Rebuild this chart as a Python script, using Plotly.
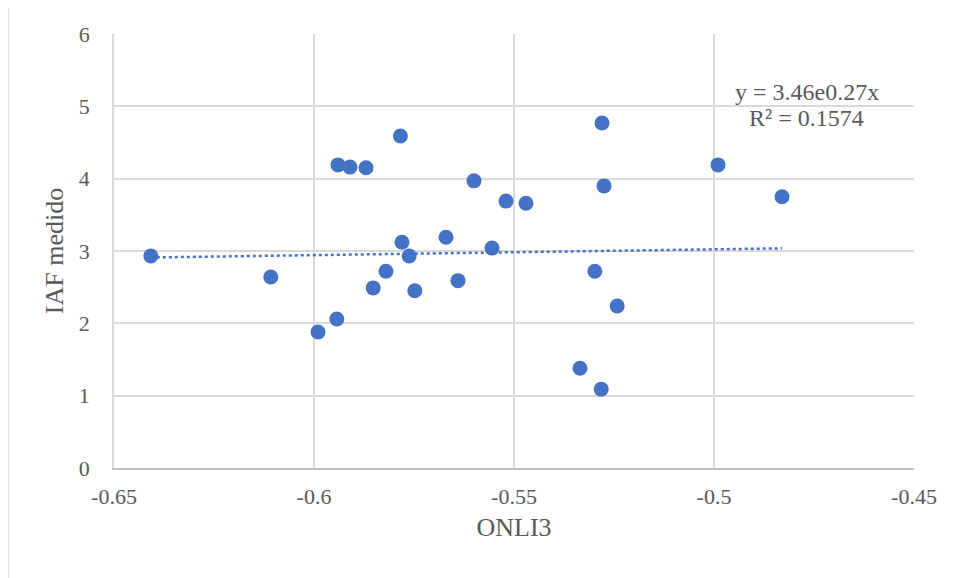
import numpy as np
import plotly.graph_objects as go

# ONLI3 vs IAF medido
onli3 = [
    -0.6408, -0.6108, -0.5990, -0.5943, -0.5940, -0.5910, -0.5870, -0.5852,
    -0.5820, -0.5784, -0.5780, -0.5762, -0.5748, -0.5670, -0.5640, -0.5600,
    -0.5555, -0.5520, -0.5470, -0.5335, -0.5298, -0.5282, -0.5280, -0.5275,
    -0.5242, -0.4990, -0.4830,
]
iaf_medido = [
    2.93, 2.64, 1.88, 2.06, 4.19, 4.16, 4.15, 2.49,
    2.72, 4.59, 3.12, 2.93, 2.45, 3.19, 2.59, 3.97,
    3.04, 3.69, 3.66, 1.38, 2.72, 1.09, 4.77, 3.90,
    2.24, 4.19, 3.75,
]
x_ticks = [-0.65, -0.6, -0.55, -0.5, -0.45]
x_tick_labels = ["-0.65", "-0.6", "-0.55", "-0.5", "-0.45"]

# exponential trendline shown on the chart
trend_a = 3.46
trend_b = 0.27
r_squared = 0.1574

POINT_COLOR = "#4472C4"
GRID_COLOR = "#D9D9D9"
TEXT_COLOR = "#595959"
FONT = "Liberation Serif"

trend_x = np.linspace(min(onli3), max(onli3), 60)
trend_y = trend_a * np.exp(trend_b * trend_x)

label_font = dict(family=FONT, size=24, color=TEXT_COLOR)

fig = go.Figure(
    data=[
        go.Scatter(
            x=onli3,
            y=iaf_medido,
            mode="markers",
            marker=dict(size=15, color=POINT_COLOR),
            showlegend=False,
        ),
        go.Scatter(
            x=trend_x,
            y=trend_y,
            mode="lines",
            line=dict(color=POINT_COLOR, width=2.5, dash="dot"),
            showlegend=False,
        ),
    ],
    layout=go.Layout(
        width=956,
        height=578,
        paper_bgcolor="white",
        plot_bgcolor="white",
        margin=dict(t=26, b=118, l=106, r=50),
        font=dict(family=FONT, size=22, color=TEXT_COLOR),
        xaxis={
            "range": [-0.65, -0.45],
            "tickvals": x_ticks,
            "ticktext": x_tick_labels,
            "gridcolor": GRID_COLOR,
            "gridwidth": 1.5,
            "zeroline": False,
            "showline": True,
            "linecolor": "#BFBFBF",
            "linewidth": 1.5,
            "ticks": "",
            "ticklabelstandoff": 8,
            "title": dict(text="ONLI3", font=dict(size=26), standoff=10),
        },
        yaxis={
            "range": [0, 6],
            "dtick": 1,
            "gridcolor": GRID_COLOR,
            "gridwidth": 1.5,
            "zeroline": False,
            "showline": True,
            "linecolor": GRID_COLOR,
            "linewidth": 1.5,
            "ticks": "",
            "ticklabelstandoff": 18,
            "title": dict(text="IAF medido", font=dict(size=26), standoff=8),
        },
        shapes=[
            dict(
                type="rect",
                xref="paper",
                yref="paper",
                x0=-0.1325,
                x1=1.06,
                y0=-0.27,
                y1=1.067,
                line=dict(color=GRID_COLOR, width=1.5),
                layer="below",
            )
        ],
        annotations=[
            dict(
                x=-0.4768,
                y=5.2,
                xref="x",
                yref="y",
                text=f"y = {trend_a}e{trend_b}x",
                showarrow=False,
                font=label_font,
            ),
            dict(
                x=-0.4768,
                y=4.84,
                xref="x",
                yref="y",
                text=f"R² = {r_squared}",
                showarrow=False,
                font=label_font,
            ),
        ],
    ),
)

fig.write_html("out.html")
